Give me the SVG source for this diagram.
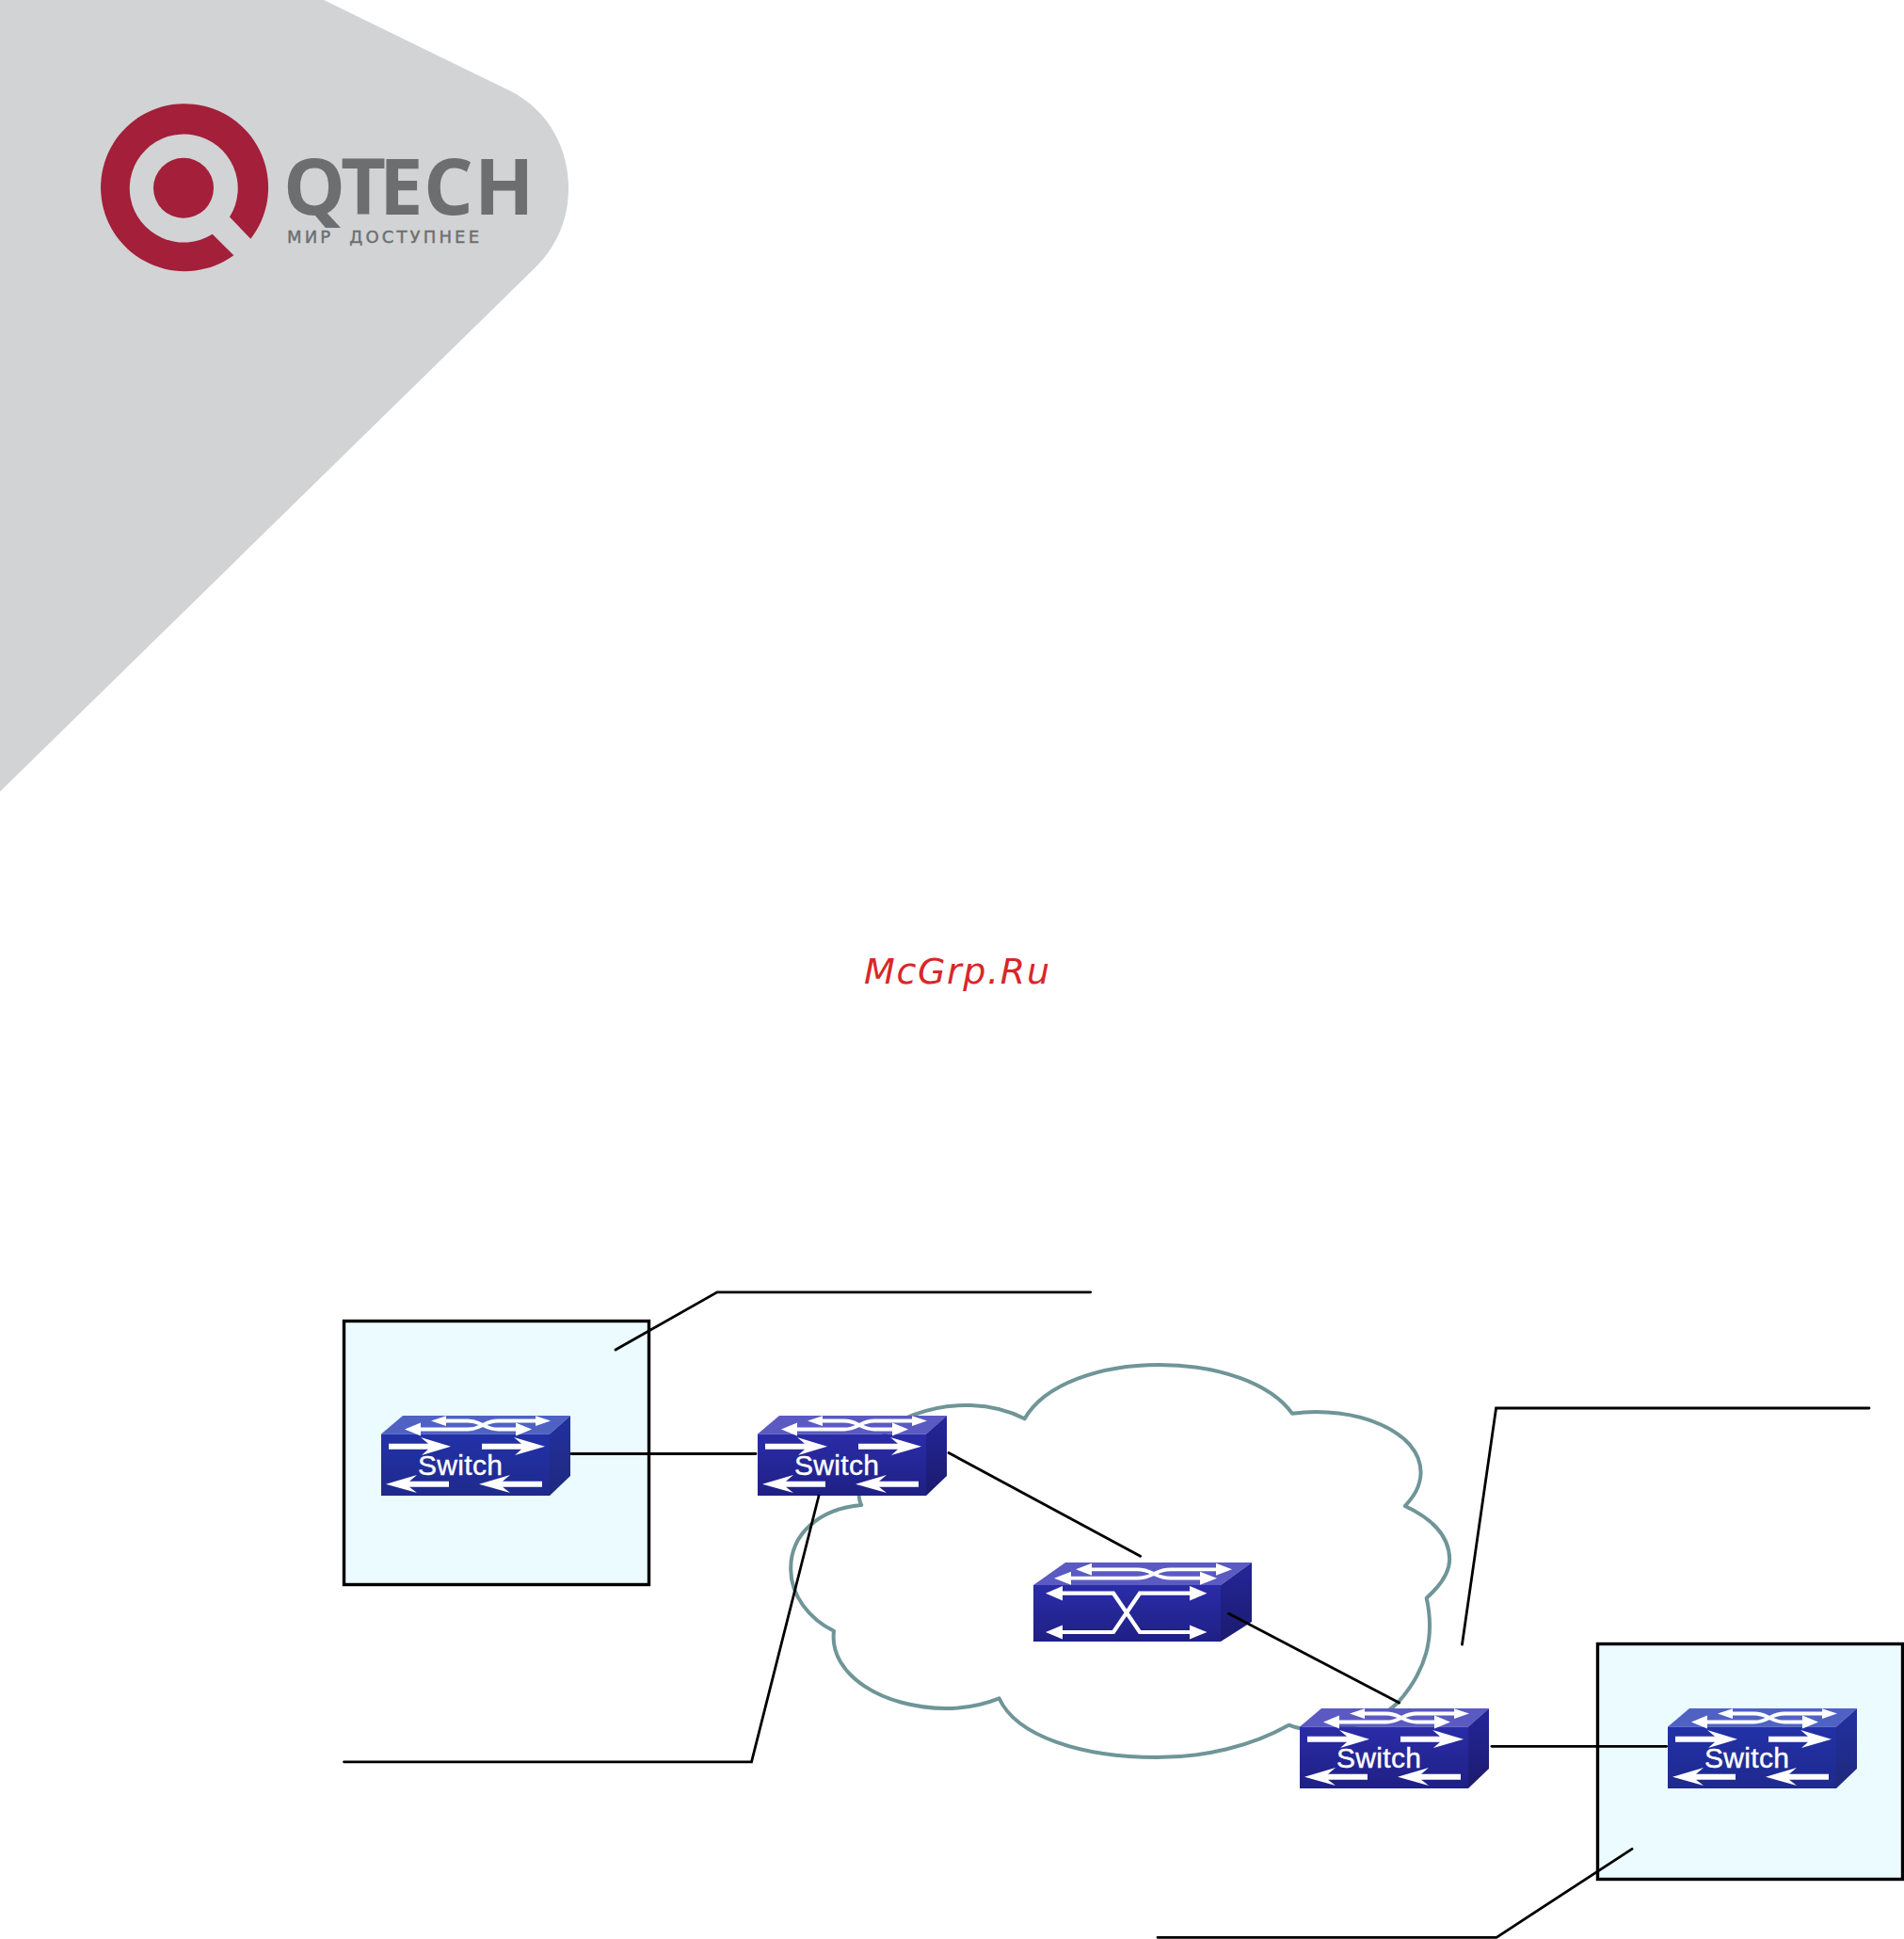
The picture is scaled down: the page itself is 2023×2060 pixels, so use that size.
<svg xmlns="http://www.w3.org/2000/svg" xmlns:xlink="http://www.w3.org/1999/xlink" width="2023" height="2060" viewBox="0 0 2023 2060">
<style>
.link{fill:none;stroke:#000;stroke-width:2.8;stroke-linecap:round;stroke-linejoin:miter}
.box{fill:#ebfbff;stroke:#000;stroke-width:3.4}
.cloud{fill:#fff;stroke:#6f9598;stroke-width:4;stroke-linejoin:round}
.wl{fill:none;stroke:#fff;stroke-width:3.8}
.wh{fill:#fff}
.lbl{font-family:"Liberation Sans",Arial,sans-serif;font-size:30px;fill:#fff;stroke:#fff;stroke-width:.4;text-anchor:middle}
</style>
<defs>
<linearGradient id="fa" x1="0" y1="0" x2="0" y2="1"><stop offset="0" stop-color="#2a2ca8"/><stop offset="1" stop-color="#1f2084"/></linearGradient>
<linearGradient id="fb" x1="0" y1="0" x2="0" y2="1"><stop offset="0" stop-color="#2231a8"/><stop offset="1" stop-color="#1f2a8c"/></linearGradient>
<linearGradient id="sa" x1="0" y1="0" x2="0" y2="1"><stop offset="0" stop-color="#25259a"/><stop offset="1" stop-color="#1b1b6e"/></linearGradient>
<linearGradient id="sb" x1="0" y1="0" x2="0" y2="1"><stop offset="0" stop-color="#2230a0"/><stop offset="1" stop-color="#1e2a7c"/></linearGradient>
<g id="marks">
<path class="wl" d="M35 14.500H92C100 14.500 104 12 108 10S116 5.500 124 5.500H170"/>
<path class="wl" d="M65 5.500H92C100 5.500 104 8 108 10S116 14.500 124 14.500H150"/>
<polygon class="wh" points="25,14.500 42,7.500 42,21.500"/>
<polygon class="wh" points="160,14.500 143,7.500 143,21.500"/>
<polygon class="wh" points="53,5.500 69,0.200 69,11"/>
<polygon class="wh" points="180,5.500 164,0.200 164,11"/>
<path class="wh" d="M8 29.700H50L42 23L74 32.700L43 42L50 35.700H8Z"/>
<path class="wh" d="M107 29.700H149L141 23L174 32.700L142 42L149 35.700H107Z"/>
<path class="wh" d="M72 69.700H30L38 63L5 72.700L38 82L30 75.700H72Z"/>
<path class="wh" d="M171 69.700H129L137 63L104 72.700L137 82L129 75.700H171Z"/>
<text class="lbl" x="84" y="63" textLength="90">Switch</text>
</g>
<g id="swA">
<polygon fill="#5a5ac2" points="23,0 201,0 179,19.500 0,19.500"/>
<rect fill="url(#fa)" x="0" y="19.500" width="179" height="65.500"/>
<polygon fill="url(#sa)" points="179,19.500 201,0 201,64 179,85"/>
<use xlink:href="#marks" href="#marks"/>
</g>
<g id="swB">
<polygon fill="#4f62c4" points="23,0 201,0 179,19.500 0,19.500"/>
<rect fill="url(#fb)" x="0" y="19.500" width="179" height="65.500"/>
<polygon fill="url(#sb)" points="179,19.500 201,0 201,64 179,85"/>
<use xlink:href="#marks" href="#marks"/>
</g>
</defs>
<rect width="2023" height="2060" fill="#fff"/>
<g id="banner">
<path fill="#d1d3d4" d="M0 0H344L541 96C585 118 604 160 604 200C604 235 590 262 571 282L0 841Z"/>
<path fill="#a31f3a" d="M266.300 253.800A89 89 0 1 0 248.300 271.200L225.700 248.800A57.500 57.500 0 1 1 244 230.500Z"/>
<circle fill="#a31f3a" cx="195" cy="199.800" r="32"/>
<text x="301 362 403 450 504" y="228.300" font-family="Open Sans,sans-serif" font-weight="700" font-size="83" fill="#6d6e70">QTECH</text>
<text x="305" y="258" font-family="DejaVu Sans,sans-serif" font-size="18" fill="#6d6e70" stroke="#6d6e70" stroke-width=".4" textLength="204" word-spacing="8">МИР ДОСТУПНЕЕ</text>
</g>
<text id="watermark" x="918" y="1045" font-family="DejaVu Sans,sans-serif" font-style="italic" font-size="38" fill="#d9262a" textLength="197">McGrp.Ru</text>
<g id="box-left"><rect class="box" x="365.500" y="1403.500" width="324" height="280"/></g>
<g id="box-right"><rect class="box" x="1697.500" y="1746.500" width="324" height="250"/></g>
<g id="cloud"><path class="cloud" d="M1088.700 1507.300C1110 1470 1170 1450 1231.500 1450C1295 1450 1350 1470 1372.900 1501.700C1440 1493 1510 1520 1509.600 1565C1509 1580 1502 1590 1492.800 1600C1525 1615 1540 1635 1540.200 1656.700C1540 1672 1530 1685 1515.700 1697.700C1525 1740 1515 1775 1486 1808C1460 1835 1400 1845 1369.300 1832.700C1330 1855 1280 1867 1229 1867C1150 1867 1080 1845 1061.600 1804.300C1040 1813 1020 1815 1005 1815C940 1815 880 1780 886 1732.700C860 1720 840 1695 840.200 1666.700C840 1630 870 1603 915.200 1599C905 1580 925 1520 969.800 1503.300C1010 1488 1055 1490 1088.700 1507.300Z"/></g>
<g id="switch-1"><use xlink:href="#swB" href="#swB" x="405" y="1504"/></g>
<g id="switch-2"><use xlink:href="#swA" href="#swA" x="805" y="1504"/></g>
<g id="switch-3"><use xlink:href="#swA" href="#swA" x="1381" y="1815"/></g>
<g id="switch-4"><use xlink:href="#swB" href="#swB" x="1772" y="1815"/></g>
<g id="switch-core">
<polygon fill="#5a5ac2" points="1132,1660 1330,1660 1297,1684 1098,1684"/>
<rect fill="url(#fa)" x="1098" y="1684" width="199" height="60"/>
<polygon fill="url(#sa)" points="1297,1684 1330,1660 1330,1723 1297,1744"/>
<g transform="translate(1098 1660)">
<path class="wl" d="M36 16.700H110C120 16.700 124 14 128 12S136 7.300 146 7.300H198"/>
<path class="wl" d="M60 7.300H110C120 7.300 124 10 128 12S136 16.700 146 16.700H180"/>
<polygon class="wh" points="22,16.700 40,9.700 40,23.700"/>
<polygon class="wh" points="195,16.700 177,9.700 177,23.700"/>
<polygon class="wh" points="45,7.300 62,0.800 62,13.800"/>
<polygon class="wh" points="211,7.300 194,0.800 194,13.800"/>
<path class="wl" d="M28 32.700H85L113 74H170M28 74H85L113 32.700H170" style="stroke-width:4.200"/>
<polygon class="wh" points="13,32.700 31,25 31,40.500"/>
<polygon class="wh" points="13,74 31,66.500 31,81.500"/>
<polygon class="wh" points="184.500,32.700 166,25 166,40.500"/>
<polygon class="wh" points="184.500,74 166,66.500 166,81.500"/>
</g>
</g>
<g id="connectors">
<path class="link" d="M654 1434L762 1372.800H1158.700"/>
<path class="link" d="M365.500 1871.800H798.500L870 1589"/>
<path class="link" d="M1986 1496H1589.600L1553.500 1747"/>
<path class="link" d="M1734 1964.300L1590 2058.300H1230"/>
<path class="link" d="M607 1544.500H803"/>
<path class="link" d="M1008 1543.500L1211.600 1653.300"/>
<path class="link" d="M1305.500 1714.300L1486.600 1809"/>
<path class="link" d="M1585 1855.300H1770.600"/>
</g>
</svg>
